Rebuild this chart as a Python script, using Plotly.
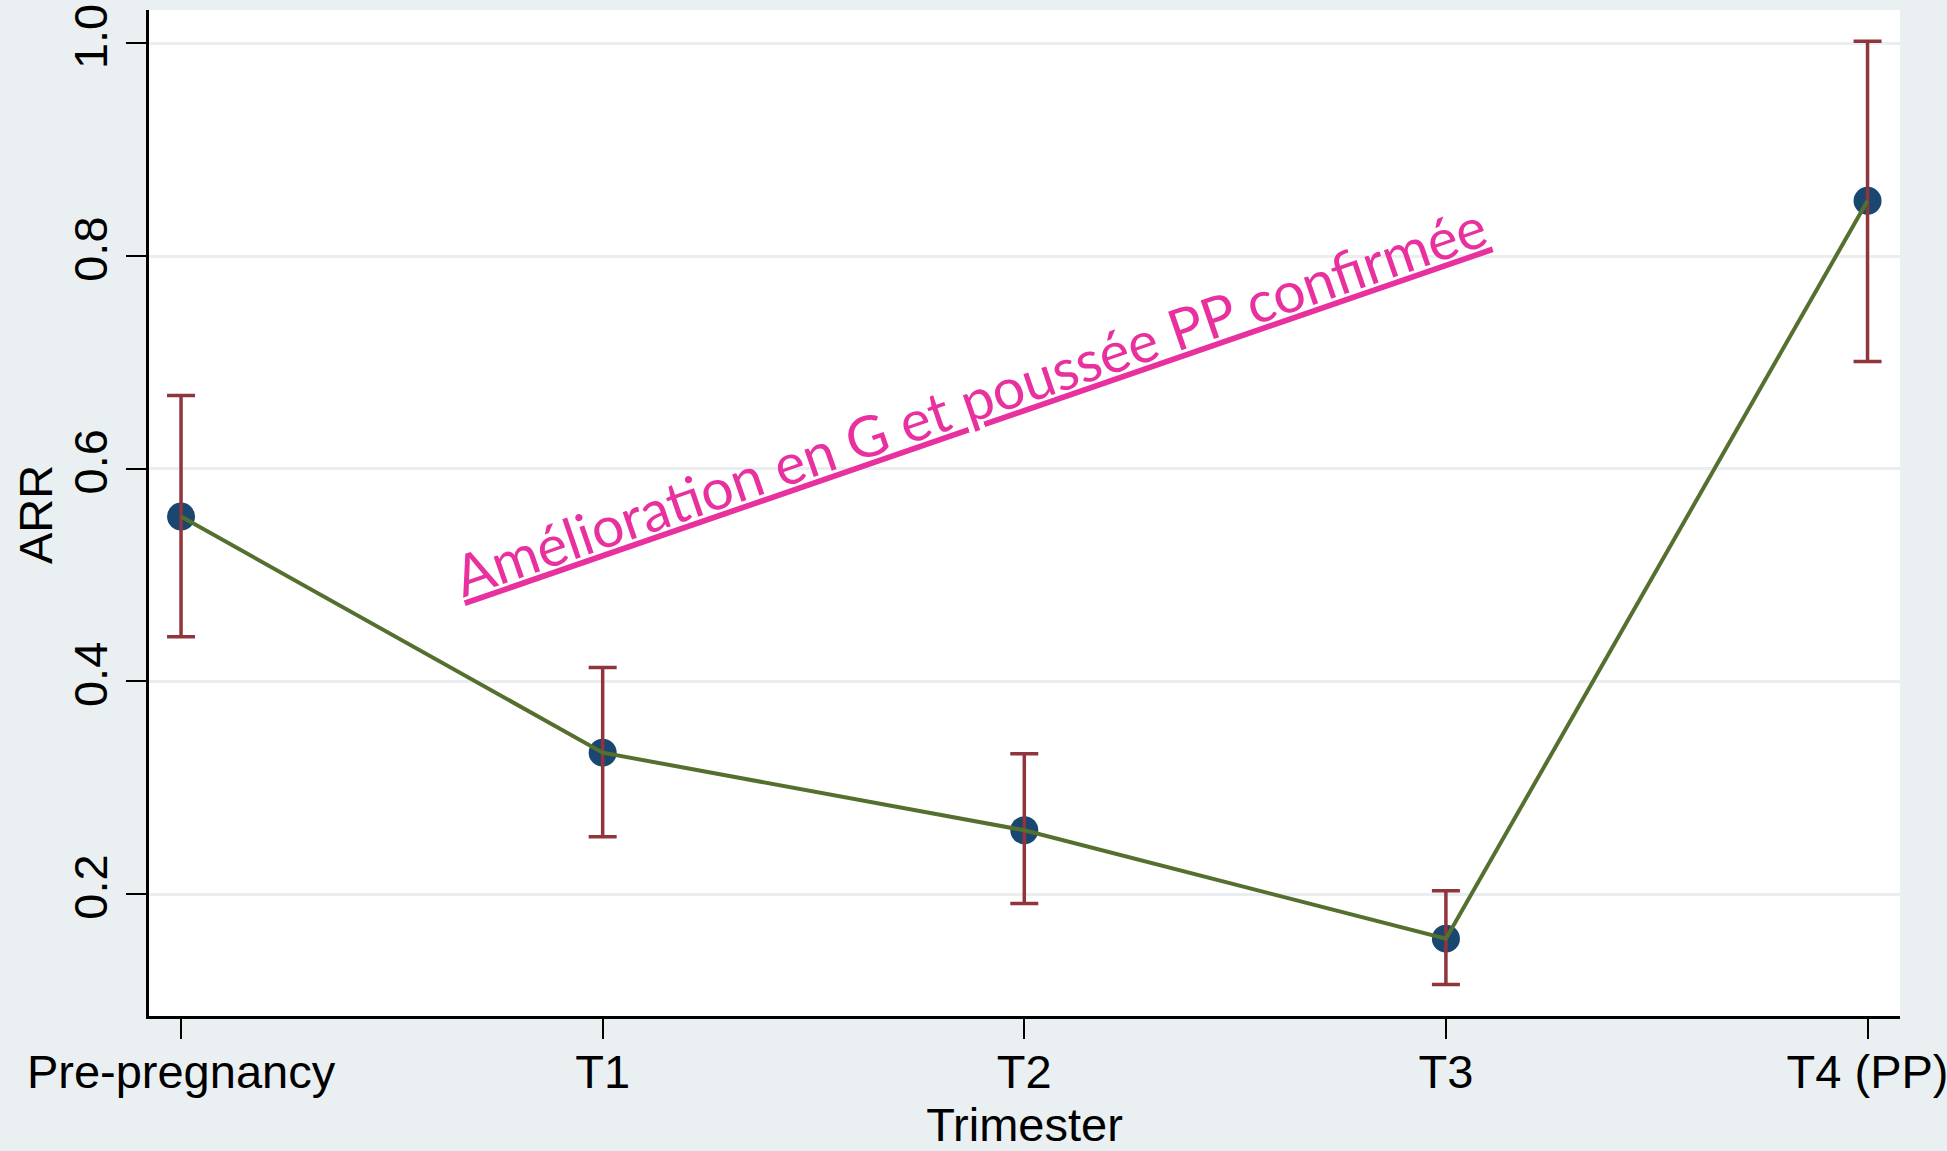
import plotly.graph_objects as go

categories = ["Pre-pregnancy", "T1", "T2", "T3", "T4 (PP)"]
arr = [0.555, 0.333, 0.260, 0.158, 0.852]
ci_upper = [0.669, 0.413, 0.332, 0.203, 1.002]
ci_lower = [0.442, 0.254, 0.191, 0.115, 0.701]
y_ticks = [0.2, 0.4, 0.6, 0.8, 1.0]
y_tick_labels = ["0.2", "0.4", "0.6", "0.8", "1.0"]
annotation_text = "Amélioration en G et poussée PP confirmée"
y_title = "ARR"
x_title = "Trimester"

xi = list(range(len(categories)))
err_plus = [u - v for u, v in zip(ci_upper, arr)]
err_minus = [v - l for v, l in zip(arr, ci_lower)]

fig = go.Figure()
fig.add_trace(go.Scatter(
    x=xi, y=arr, mode="markers",
    marker=dict(color="#1a476f", size=28, line=dict(width=0)),
    showlegend=False, hoverinfo="skip"))
fig.add_trace(go.Scatter(
    x=xi, y=arr, mode="markers",
    marker=dict(color="rgba(0,0,0,0)", size=1),
    error_y=dict(type="data", symmetric=False, array=err_plus, arrayminus=err_minus,
                 color="#90353b", thickness=3.5, width=14),
    showlegend=False, hoverinfo="skip"))
fig.add_trace(go.Scatter(
    x=xi, y=arr, mode="lines",
    line=dict(color="#55702e", width=4),
    showlegend=False))

fig.add_annotation(
    x=1.87, y=0.665, xref="x", yref="y",
    text="<u>" + annotation_text + "</u>",
    showarrow=False, textangle=-19,
    xanchor="center", yanchor="middle",
    font=dict(family="Lato", size=57, color="#e8319f"))

axis_font = dict(family="Liberation Sans, Arial, sans-serif", size=47, color="#000000")

fig.add_annotation(
    x=-0.0651, y=0.498, xref="paper", yref="paper",
    text=y_title, textangle=-90, showarrow=False,
    xanchor="center", yanchor="middle", font=axis_font)

fig.update_layout(
    width=1947, height=1151,
    margin=dict(l=149, r=47, t=10, b=135),
    paper_bgcolor="#eaf0f2",
    plot_bgcolor="#ffffff",
    font=axis_font,
    showlegend=False,
    xaxis=dict(
        range=[-0.076, 4.077],
        automargin=False,
        tickmode="array", tickvals=xi, ticktext=categories,
        showgrid=False, zeroline=False,
        showline=True, linecolor="#000000", linewidth=3,
        ticks="outside", ticklen=20, tickwidth=2, tickcolor="#000000",
        tickfont=axis_font, ticklabelstandoff=-7, ticklabeloverflow="allow",
        title=dict(text=x_title, font=axis_font),
    ),
    yaxis=dict(
        range=[0.0853, 1.0315],
        automargin=False,
        tickmode="array", tickvals=y_ticks, ticktext=y_tick_labels,
        tickangle=-90,
        showgrid=True, gridcolor="#eaeef0", gridwidth=3,
        zeroline=False,
        showline=True, linecolor="#000000", linewidth=3,
        ticks="outside", ticklen=20, tickwidth=2, tickcolor="#000000",
        tickfont=axis_font, ticklabeloverflow="allow",
    ),
)

fig.write_html("out.html")
